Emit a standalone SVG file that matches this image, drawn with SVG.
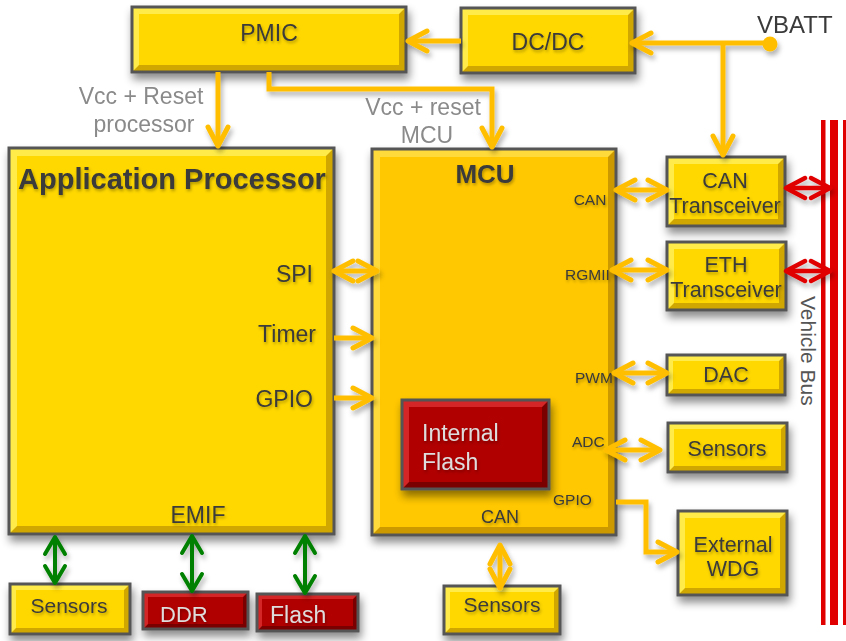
<svg xmlns="http://www.w3.org/2000/svg" width="846" height="641" viewBox="0 0 846 641">
  <defs>
    <filter id="shadow" filterUnits="userSpaceOnUse" x="0" y="0" width="846" height="641">
      <feDropShadow dx="2" dy="6" stdDeviation="4" flood-color="#000" flood-opacity="0.45"/>
    </filter>
    <filter id="lineShadow" filterUnits="userSpaceOnUse" x="0" y="0" width="846" height="641">
      <feDropShadow dx="2" dy="4" stdDeviation="2.5" flood-color="#000" flood-opacity="0.3"/>
    </filter>
    <filter id="textShadow" x="-20%" y="-40%" width="140%" height="180%">
      <feDropShadow dx="1" dy="2" stdDeviation="1.5" flood-color="#000" flood-opacity="0.3"/>
    </filter>
    <marker id="headY" viewBox="-24 -14 28 28" refX="0" refY="0" markerWidth="28" markerHeight="28" markerUnits="userSpaceOnUse" orient="auto-start-reverse">
      <path d="M-19,-10 L0,0 L-19,10" fill="none" stroke="#FFBF00" stroke-width="5" stroke-linecap="round" stroke-linejoin="round"/>
    </marker>
    <marker id="headG" viewBox="-24 -14 28 28" refX="0" refY="0" markerWidth="28" markerHeight="28" markerUnits="userSpaceOnUse" orient="auto-start-reverse">
      <path d="M-17,-10 L0,0 L-17,10" fill="none" stroke="#008000" stroke-width="4" stroke-linecap="round" stroke-linejoin="round"/>
    </marker>
    <marker id="headR" viewBox="-24 -14 28 28" refX="0" refY="0" markerWidth="28" markerHeight="28" markerUnits="userSpaceOnUse" orient="auto-start-reverse">
      <path d="M-19,-10 L0,0 L-19,10" fill="none" stroke="#E00000" stroke-width="4.5" stroke-linecap="round" stroke-linejoin="round"/>
    </marker>
  </defs>
  <style>
    text { font-family: "Liberation Sans", Arial, sans-serif; fill: #3A3A3A; }
    .box { filter: url(#shadow); }
    .bd { fill: none; stroke: #555; stroke-width: 3; }
    .yel .dk { fill: #D0A600; }
    .yel .lt { fill: #FFEC4C; }
    .yel .fc { fill: #FFD800; }
    .mcu .dk { fill: #CC9A00; }
    .mcu .lt { fill: #FFDA3A; }
    .mcu .fc { fill: #FFC800; }
    .red .dk { fill: #7A0000; }
    .red .lt { fill: #D42828; }
    .red .fc { fill: #B00000; }
    .red text { fill: #DDDDDD; }
    .ts { filter: url(#textShadow); }
    .c { text-anchor: middle; }
    .e { text-anchor: end; }
    .big { font-size: 23px; }
    .mid { font-size: 21.5px; }
    .sm { font-size: 15.5px; }
    .bold { font-weight: bold; }
    .note { fill: #8A8A8A; font-size: 23px; text-anchor: middle; }
    .wy { fill: none; stroke: #FFBF00; stroke-width: 5; marker-end: url(#headY); }
    .wy2 { marker-start: url(#headY); }
    .wg { fill: none; stroke: #008000; stroke-width: 4; marker-start: url(#headG); marker-end: url(#headG); }
    .wr { fill: none; stroke: #E00000; stroke-width: 4.5; marker-start: url(#headR); marker-end: url(#headR); }
    .bus { fill: #E00000; }
  </style>

  <!-- vehicle bus -->
  <g id="vehicle-bus">
    <rect class="bus" x="821" y="120" width="4.5" height="505"/>
    <rect class="bus" x="830" y="120" width="8" height="505"/>
    <rect class="bus" x="843" y="120" width="4" height="505"/>
    <text transform="translate(801,296) rotate(90)" style="font-size:21px;fill:#555">Vehicle Bus</text>
  </g>

  <!-- power -->
  <g id="pmic" class="box yel">
    <rect class="dk" x="132" y="7" width="274" height="65"/>
    <polygon class="lt" points="132,7 406,7 399,14 139,14 139,65 132,72"/>
    <rect class="fc" x="139" y="14" width="260" height="51"/>
    <rect class="bd" x="132" y="7" width="274" height="65"/>
    <text class="c big ts" x="269" y="41">PMIC</text>
  </g>
  <g id="dcdc" class="box yel">
    <rect class="dk" x="461" y="8" width="174" height="65"/>
    <polygon class="lt" points="461,8 635,8 628,15 468,15 468,66 461,73"/>
    <rect class="fc" x="468" y="15" width="160" height="51"/>
    <rect class="bd" x="461" y="8" width="174" height="65"/>
    <text class="c big ts" x="548" y="50">DC/DC</text>
  </g>

  <!-- processors -->
  <g id="app-processor" class="box yel">
    <rect class="dk" x="9" y="148" width="325" height="386"/>
    <polygon class="lt" points="9,148 334,148 326,156 17,156 17,526 9,534"/>
    <rect class="fc" x="17" y="156" width="309" height="370"/>
    <rect class="bd" x="9" y="148" width="325" height="386"/>
    <text class="c bold ts" x="172" y="189" style="font-size:29px">Application Processor</text>
    <text class="e big ts" x="313" y="282">SPI</text>
    <text class="e big ts" x="316" y="342">Timer</text>
    <text class="e big ts" x="313" y="407">GPIO</text>
    <text class="c big ts" x="198" y="523">EMIF</text>
  </g>
  <g id="mcu" class="box mcu">
    <rect class="dk" x="372" y="149" width="244" height="386"/>
    <polygon class="lt" points="372,149 616,149 608,157 380,157 380,527 372,535"/>
    <rect class="fc" x="380" y="157" width="228" height="370"/>
    <rect class="bd" x="372" y="149" width="244" height="386"/>
    <text class="c bold ts" x="485" y="183" style="font-size:26px">MCU</text>
    <text class="c sm ts" x="590" y="205">CAN</text>
    <text class="sm ts" x="565" y="280">RGMII</text>
    <text class="sm ts" x="575" y="383">PWM</text>
    <text class="sm ts" x="572" y="447">ADC</text>
    <text class="sm ts" x="553" y="505">GPIO</text>
    <text class="c ts" x="500" y="523" style="font-size:18px">CAN</text>
  </g>
  <g id="internal-flash" class="box red">
    <rect class="dk" x="402" y="400" width="147" height="89"/>
    <polygon class="lt" points="402,400 549,400 542,407 409,407 409,482 402,489"/>
    <rect class="fc" x="409" y="407" width="133" height="75"/>
    <rect class="bd" x="402" y="400" width="147" height="89"/>
    <text class="big ts" x="422" y="441">Internal</text>
    <text class="big ts" x="422" y="470">Flash</text>
  </g>

  <!-- peripherals -->
  <g id="can-transceiver" class="box yel">
    <rect class="dk" x="667" y="157" width="118" height="69"/>
    <polygon class="lt" points="667,157 785,157 778,164 674,164 674,219 667,226"/>
    <rect class="fc" x="674" y="164" width="104" height="55"/>
    <rect class="bd" x="667" y="157" width="118" height="69"/>
    <text class="c mid ts" x="725" y="188">CAN</text>
    <text class="c mid ts" x="725" y="213">Transceiver</text>
  </g>
  <g id="eth-transceiver" class="box yel">
    <rect class="dk" x="667" y="242" width="119" height="68"/>
    <polygon class="lt" points="667,242 786,242 779,249 674,249 674,303 667,310"/>
    <rect class="fc" x="674" y="249" width="105" height="54"/>
    <rect class="bd" x="667" y="242" width="119" height="68"/>
    <text class="c mid ts" x="726" y="272">ETH</text>
    <text class="c mid ts" x="726" y="297">Transceiver</text>
  </g>
  <g id="dac" class="box yel">
    <rect class="dk" x="667" y="355" width="118" height="40"/>
    <polygon class="lt" points="667,355 785,355 779,361 673,361 673,389 667,395"/>
    <rect class="fc" x="673" y="361" width="106" height="28"/>
    <rect class="bd" x="667" y="355" width="118" height="40"/>
    <text class="c mid ts" x="726" y="382">DAC</text>
  </g>
  <g id="sensors-adc" class="box yel">
    <rect class="dk" x="668" y="423" width="119" height="49"/>
    <polygon class="lt" points="668,423 787,423 781,429 674,429 674,466 668,472"/>
    <rect class="fc" x="674" y="429" width="107" height="37"/>
    <rect class="bd" x="668" y="423" width="119" height="49"/>
    <text class="c mid ts" x="727" y="456">Sensors</text>
  </g>
  <g id="external-wdg" class="box yel">
    <rect class="dk" x="678" y="511" width="109" height="84"/>
    <polygon class="lt" points="678,511 787,511 780,518 685,518 685,588 678,595"/>
    <rect class="fc" x="685" y="518" width="95" height="70"/>
    <rect class="bd" x="678" y="511" width="109" height="84"/>
    <text class="c mid ts" x="733" y="552">External</text>
    <text class="c mid ts" x="733" y="576">WDG</text>
  </g>
  <g id="sensors-emif" class="box yel">
    <rect class="dk" x="10" y="584" width="120" height="50"/>
    <polygon class="lt" points="10,584 130,584 124,590 16,590 16,628 10,634"/>
    <rect class="fc" x="16" y="590" width="108" height="38"/>
    <rect class="bd" x="10" y="584" width="120" height="50"/>
    <text class="c ts" x="69" y="613" style="font-size:21px">Sensors</text>
  </g>
  <g id="ddr" class="box red">
    <rect class="dk" x="143" y="592" width="105" height="37"/>
    <polygon class="lt" points="143,592 248,592 243,597 148,597 148,624 143,629"/>
    <rect class="fc" x="148" y="597" width="95" height="27"/>
    <rect class="bd" x="143" y="592" width="105" height="37"/>
    <text class="ts" x="160" y="622" style="font-size:22px">DDR</text>
  </g>
  <g id="flash" class="box red">
    <rect class="dk" x="257" y="594" width="101" height="37"/>
    <polygon class="lt" points="257,594 358,594 353,599 262,599 262,626 257,631"/>
    <rect class="fc" x="262" y="599" width="91" height="27"/>
    <rect class="bd" x="257" y="594" width="101" height="37"/>
    <text class="ts" x="270" y="623" style="font-size:23px">Flash</text>
  </g>
  <g id="sensors-can" class="box yel">
    <rect class="dk" x="444" y="586" width="116" height="48"/>
    <polygon class="lt" points="444,586 560,586 554,592 450,592 450,628 444,634"/>
    <rect class="fc" x="450" y="592" width="104" height="36"/>
    <rect class="bd" x="444" y="586" width="116" height="48"/>
    <text class="c ts" x="502" y="612" style="font-size:21px">Sensors</text>
  </g>

  <!-- supply labels -->
  <g id="labels">
    <text class="note" x="141" y="104">Vcc + Reset</text>
    <text class="note" x="144" y="132">processor</text>
    <text class="note" x="423" y="115">Vcc + reset</text>
    <text class="note" x="427" y="143">MCU</text>
    <text x="757" y="33" style="font-size:24px">VBATT</text>
  </g>

  <!-- connectors -->
  <g id="connectors" filter="url(#lineShadow)">
    <path class="wy" d="M461,41 L408,41"/>
    <path class="wy" d="M770,43 L632,43"/>
    <path class="wy" d="M723,43 L723,155"/>
    <circle cx="770" cy="44" r="7.5" fill="#FFBF00"/>
    <path class="wy" d="M218,72 L218,146"/>
    <path class="wy" d="M269,72 V89 H492 V147"/>
    <path class="wy wy2" d="M334,271 L377,271"/>
    <path class="wy" d="M334,338 L372,338"/>
    <path class="wy" d="M334,398 L372,398"/>
    <path class="wy wy2" d="M616,190 L667,190"/>
    <path class="wy wy2" d="M612,270 L667,270"/>
    <path class="wy wy2" d="M614,373 L667,373"/>
    <path class="wy wy2" d="M606,450 L660,450"/>
    <path class="wy" d="M616,502 H646 V552 H677"/>
    <path class="wy wy2" d="M500,545 L500,588"/>
    <path class="wr" d="M786,188 L830,188"/>
    <path class="wr" d="M786,271 L830,271"/>
    <path class="wg" d="M55,537 L55,583"/>
    <path class="wg" d="M192,536 L192,591"/>
    <path class="wg" d="M305,536 L305,593"/>
  </g>
</svg>
